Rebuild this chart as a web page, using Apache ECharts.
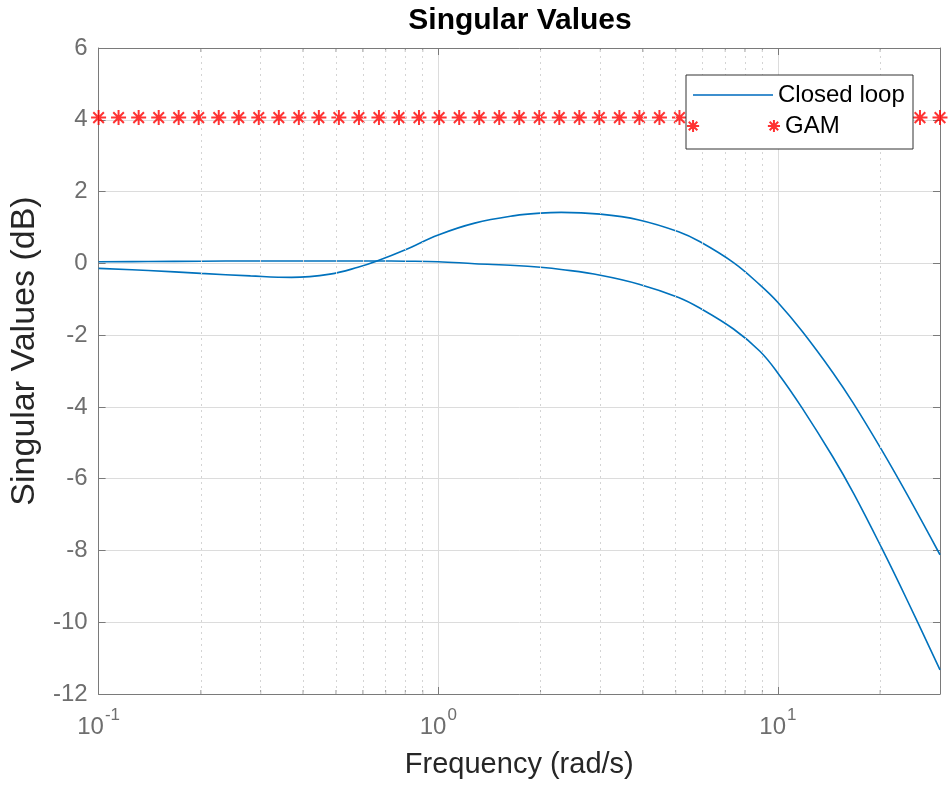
<!DOCTYPE html>
<html>
<head>
<meta charset="utf-8">
<title>Singular Values</title>
<script src="https://cdn.jsdelivr.net/npm/echarts@6/dist/echarts.min.js"></script>
<style>
  html, body { margin: 0; padding: 0; background: #fff; }
  #chart { width: 951px; height: 785px; }
</style>
</head>
<body>
<div id="chart"></div>
<script>
// frequencies (rad/s)
const freq = [0.1, 0.14, 0.2, 0.28, 0.37, 0.48, 0.58, 0.66, 0.8, 1.0, 1.28, 1.68, 2.0, 2.3, 3.0, 3.9, 5.1, 5.9, 7.4, 8.85, 10, 11.8, 14.5, 16.7, 20.2, 24, 30];
// the two singular value curves (dB)
const sigmaUpper = [-0.14, -0.2, -0.28, -0.35, -0.39, -0.30, -0.11, 0.065, 0.38, 0.79, 1.12, 1.33, 1.40, 1.42, 1.37, 1.21, 0.88, 0.60, 0.02, -0.60, -1.09, -1.90, -3.04, -3.91, -5.20, -6.44, -8.12];
const sigmaLower = [0.045, 0.05, 0.06, 0.065, 0.065, 0.065, 0.065, 0.065, 0.06, 0.045, -0.01, -0.06, -0.11, -0.17, -0.33, -0.58, -0.95, -1.25, -1.83, -2.45, -3.06, -4.04, -5.39, -6.41, -7.93, -9.38, -11.33];

// GAM markers
const gamFreq = [0.1, 0.1145, 0.1312, 0.1503, 0.1721, 0.1971, 0.2258, 0.2586, 0.2962, 0.3393, 0.3886, 0.4451, 0.5098, 0.5840, 0.6689, 0.7661, 0.8775, 1.0061, 1.1524, 1.3199, 1.5118, 1.7316, 1.9834, 2.2718, 2.6021, 2.9804, 3.4137, 3.9100, 4.4785, 5.1296, 5.8754, 6.7296, 7.7080, 8.8287, 10.1225, 11.595, 13.282, 15.214, 17.427, 19.962, 22.866, 26.193, 30];
const gamValue = 4.06;

// minor grid / tick positions on the log axis
const minorFreq = [0.2, 0.3, 0.4, 0.5, 0.6, 0.7, 0.8, 0.9, 2, 3, 4, 5, 6, 7, 8, 9, 20];
const yTicks = { min: -12, max: 6, step: 2 };

const FONT = 'Liberation Sans, Arial, Helvetica, sans-serif';
const AXIS_GREY = '#7a7a7a';
const LABEL_GREY = '#6e6e6e';
const BLUE = '#0072BD';
const STAR = 'path://M0,6L12,6M6,0L6,12M1.76,1.76L10.24,10.24M1.76,10.24L10.24,1.76';
// legend icon: one star at each end of the sample
const STAR_PAIR = 'path://M0,6L12,6M6,0L6,12M1.76,1.76L10.24,10.24M1.76,10.24L10.24,1.76' +
  'M80,6L92,6M86,0L86,12M81.76,1.76L90.24,10.24M81.76,10.24L90.24,1.76';

var myChart = echarts.init(document.getElementById('chart'));

function pairs(xs, ys) {
  return xs.map((x, i) => [x, ys[i]]);
}

var option = {
  animation: false,
  backgroundColor: '#fff',
  title: {
    text: 'Singular Values',
    left: 515,
    top: 1,
    textAlign: 'center',
    textStyle: { fontFamily: FONT, fontSize: 30, fontWeight: 'bold', color: '#000' }
  },
  legend: [
    {
      data: [{ name: 'Closed loop', icon: 'rect' }],
      left: 693,
      top: 83,
      padding: 0,
      itemWidth: 80,
      itemHeight: 2,
      z: 12,
      itemStyle: { color: '#3d8fce' },
      textStyle: { fontFamily: FONT, fontSize: 24, color: '#000' },
      selectedMode: false
    },
    {
      data: [{ name: 'GAM', icon: STAR_PAIR }],
      left: 686,
      top: 114,
      padding: 0,
      itemWidth: 93,
      itemHeight: 13,
      z: 12,
      itemStyle: { borderWidth: 2 },
      textStyle: { fontFamily: FONT, fontSize: 24, color: '#000' },
      selectedMode: false
    }
  ],
  graphic: [
    {
      type: 'rect',
      z: 10,
      shape: { x: 686, y: 75, width: 227, height: 74 },
      style: { fill: '#fff', stroke: '#333', lineWidth: 1 }
    }
  ],
  grid: { left: 97, right: 11, top: 48, bottom: 91 },
  xAxis: [
    {
      type: 'log',
      logBase: 10,
      min: 0.1,
      max: 30,
      name: 'Frequency (rad/s)',
      nameLocation: 'middle',
      nameGap: 56,
      nameTextStyle: { fontFamily: FONT, fontSize: 29, color: '#262626' },
      axisLine: { show: true, onZero: false, lineStyle: { color: AXIS_GREY, width: 1 } },
      axisTick: { show: true, inside: true, length: 7, lineStyle: { color: AXIS_GREY } },
      axisLabel: {
        margin: 17,
        showMaxLabel: false,
        formatter: function (v) {
          const e = Math.log10(v);
          if (Math.abs(e - Math.round(e)) > 1e-6) return '';
          return '{b|10}{s|' + Math.round(e) + '}';
        },
        rich: {
          b: { fontFamily: FONT, fontSize: 24, color: LABEL_GREY, lineHeight: 24, padding: [8, 0, 0, 0] },
          s: { fontFamily: FONT, fontSize: 17, color: LABEL_GREY, lineHeight: 16, padding: [0, 0, 16, 1] }
        }
      },
      splitLine: { show: true, lineStyle: { color: '#dcdcdc', width: 1 } }
    },
    {
      type: 'log',
      logBase: 10,
      min: 0.1,
      max: 30,
      position: 'top',
      axisLine: { show: true, onZero: false, lineStyle: { color: AXIS_GREY, width: 1 } },
      axisTick: { show: true, inside: true, length: 7, lineStyle: { color: AXIS_GREY } },
      axisLabel: { show: false },
      splitLine: { show: false }
    }
  ],
  yAxis: [
    {
      type: 'value',
      min: yTicks.min,
      max: yTicks.max,
      interval: yTicks.step,
      name: 'Singular Values (dB)',
      nameLocation: 'middle',
      nameGap: 56,
      // left padding nudges the rotated name upwards, as in the picture
      nameTextStyle: { fontFamily: FONT, fontSize: 34, color: '#262626', padding: [0, 0, 0, 40] },
      axisLine: { show: true, onZero: false, lineStyle: { color: AXIS_GREY, width: 1 } },
      axisTick: { show: true, inside: true, length: 7, lineStyle: { color: AXIS_GREY } },
      axisLabel: { margin: 11, fontFamily: FONT, fontSize: 24, color: LABEL_GREY },
      splitLine: { show: true, lineStyle: { color: '#dcdcdc', width: 1 } }
    },
    {
      type: 'value',
      min: yTicks.min,
      max: yTicks.max,
      interval: yTicks.step,
      position: 'right',
      axisLine: { show: true, onZero: false, lineStyle: { color: AXIS_GREY, width: 1 } },
      axisTick: { show: true, inside: true, length: 7, lineStyle: { color: AXIS_GREY } },
      axisLabel: { show: false },
      splitLine: { show: false }
    }
  ],
  series: [
    {
      // minor ticks at the bottom edge + dotted minor grid lines
      name: 'minorBottom',
      type: 'scatter',
      z: 1,
      silent: true,
      symbol: 'rect',
      symbolSize: [1, 4],
      symbolOffset: [0, -2],
      itemStyle: { color: AXIS_GREY },
      data: minorFreq.map(f => [f, yTicks.min]),
      markLine: {
        silent: true,
        symbol: ['none', 'none'],
        label: { show: false },
        lineStyle: { color: '#d4d4d4', width: 1, type: [2, 4] },
        data: minorFreq.map(f => ({ xAxis: f }))
      }
    },
    {
      name: 'minorTop',
      type: 'scatter',
      z: 1,
      silent: true,
      symbol: 'rect',
      symbolSize: [1, 4],
      symbolOffset: [0, 2],
      itemStyle: { color: AXIS_GREY },
      data: minorFreq.map(f => [f, yTicks.max])
    },
    {
      name: 'Closed loop',
      type: 'line',
      smooth: 0.4,
      symbol: 'none',
      color: BLUE,
      lineStyle: { color: BLUE, width: 1.6 },
      data: pairs(freq, sigmaUpper)
    },
    {
      name: 'Closed loop',
      type: 'line',
      smooth: 0.4,
      symbol: 'none',
      color: BLUE,
      lineStyle: { color: BLUE, width: 1.6 },
      data: pairs(freq, sigmaLower)
    },
    {
      name: 'GAM',
      type: 'scatter',
      z: 3,
      symbol: STAR,
      symbolSize: 15,
      itemStyle: { color: 'rgba(0,0,0,0)', borderColor: '#ff0000', borderWidth: 2 },
      data: gamFreq.map(f => [f, gamValue])
    }
  ]
};

option && myChart.setOption(option);
window.addEventListener('resize', myChart.resize);
</script>
</body>
</html>
